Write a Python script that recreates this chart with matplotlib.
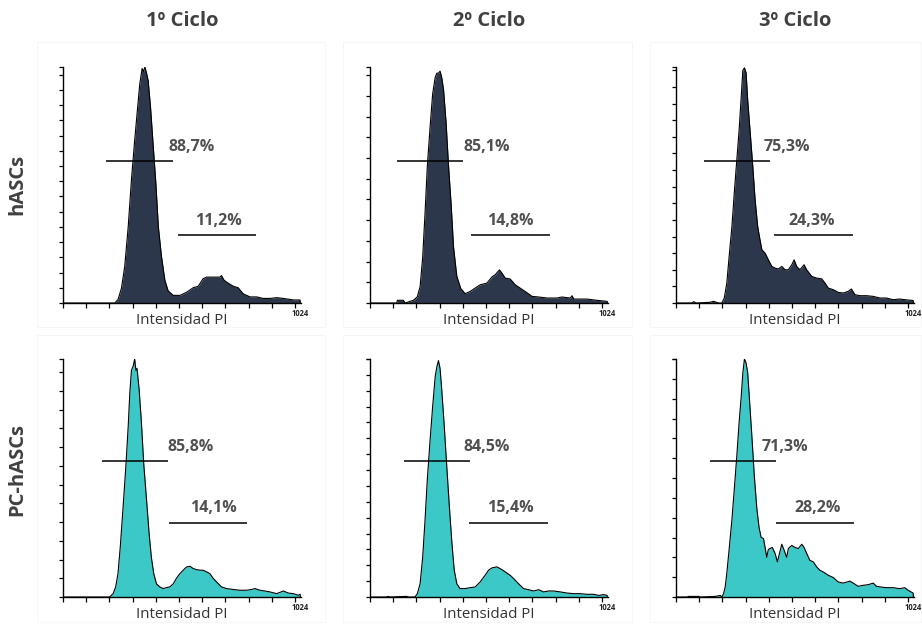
import numpy as np
import matplotlib
matplotlib.use("Agg")
import matplotlib.pyplot as plt
from matplotlib.patches import Rectangle

plt.rcParams['font.family'] = ['Open Sans', 'DejaVu Sans']

# Column / row headings
cycles = ["1º Ciclo", "2º Ciclo", "3º Ciclo"]
cell_lines = ["hASCs", "PC-hASCs"]

# DNA content histograms: (PI channel, cell count)
hascs_c1 = [(0, 0), (223, 0), (237, 2.2), (252, 9.8), (266, 24), (281, 50), (295, 81), (309, 107),
            (319, 124), (331, 144), (341, 154), (347, 152), (353, 155), (360, 151), (367, 146),
            (377, 129), (388, 105), (400, 79), (411, 50), (424, 31), (439, 15), (453, 8), (475, 5),
            (504, 5), (532, 7), (561, 10), (583, 11), (604, 16), (619, 17), (647, 17), (676, 17),
            (683, 18), (694, 15), (712, 13), (734, 11), (755, 10), (777, 6), (806, 4), (835, 4),
            (863, 3), (892, 3), (921, 3.5), (950, 3), (993, 2), (1021, 2), (1023, 0)]
hascs_c2 = [(0, 0), (115, 0), (118, 1.3), (144, 1.3), (151, 0), (187, 1.3), (204, 3), (216, 8),
            (227, 22), (237, 43), (247, 66), (259, 85), (270, 101), (281, 109), (288, 111),
            (295, 111), (302, 112), (309, 109), (317, 103), (328, 87), (338, 67), (350, 47),
            (360, 27), (374, 13), (391, 7), (410, 4.5), (432, 5.6), (453, 7.2), (475, 8.8),
            (504, 9.6), (525, 12.5), (540, 13.7), (558, 16), (568, 14.5), (583, 12), (604, 11.6),
            (626, 8.8), (647, 7.2), (676, 5), (698, 3.2), (727, 2.9), (763, 2.4), (806, 2.4),
            (827, 2.9), (863, 2.4), (871, 3.5), (878, 1.9), (935, 1.9), (978, 1.3), (1022, 0.8),
            (1023, 0)]
hascs_c3 = [(0, 0), (69, 0), (76, 0.8), (87, 0), (145, 0.4), (162, 1), (183, 0), (198, 0), (208, 3),
            (219, 12), (229, 28), (241, 46), (251, 66), (262, 86), (272, 104), (281, 124),
            (288, 140), (295, 141.5), (302, 138.5), (309, 122), (319, 104), (331, 82), (341, 62),
            (352, 46), (362, 38), (370, 32), (384, 30), (398, 26), (413, 22), (427, 21),
            (441, 20.5), (456, 22), (470, 20), (484, 20), (499, 23), (509, 26), (520, 22),
            (534, 20), (552, 23), (563, 20), (585, 16), (606, 15), (628, 14.5), (642, 12),
            (656, 9), (678, 8), (699, 6.4), (721, 6), (742, 7), (756, 8.4), (771, 5), (792, 4.4),
            (821, 4.4), (849, 4), (878, 3), (907, 3), (936, 2), (964, 2.4), (986, 2), (1022, 1.5),
            (1023, 0)]
pc_c1 = [(0, 0), (201, 0), (216, 1.8), (227, 5.4), (237, 12.5), (247, 27), (259, 48), (271, 70),
         (281, 91), (288, 109), (295, 121), (302, 123), (309, 127), (314, 121), (319, 122),
         (328, 111), (338, 93), (348, 71), (360, 52), (371, 34), (381, 21), (391, 12.5), (403, 7),
         (417, 5.4), (432, 4.5), (446, 5), (460, 5.4), (475, 7), (489, 10), (504, 12.5),
         (518, 14.3), (532, 16), (547, 16.4), (561, 15.2), (576, 14.6), (590, 14.3), (604, 14.3),
         (619, 13.4), (633, 12.5), (647, 10), (662, 8), (683, 5.4), (705, 4.5), (734, 4),
         (763, 3.6), (791, 3.6), (813, 4), (827, 4.5), (849, 3.6), (870, 3.2), (892, 2.7),
         (921, 1.8), (950, 3.2), (971, 2.1), (993, 1.8), (1014, 0.9), (1022, 1.5), (1023, 0)]
pc_c2 = [(0, 0), (72, 0), (79, 0.4), (86, 0), (158, 0.4), (165, 0), (194, 0), (204, 2.1), (216, 8.4),
         (227, 25), (237, 48), (247, 74), (259, 99), (270, 120), (281, 139), (288, 145),
         (295, 149), (302, 144), (309, 131), (319, 110), (331, 82), (342, 57), (353, 34),
         (363, 17), (374, 8.4), (388, 5.3), (410, 5.3), (432, 5.9), (453, 6.3), (475, 9.5),
         (496, 13.7), (511, 16.9), (525, 18.3), (547, 19), (568, 17.3), (583, 15.8), (604, 13.7),
         (619, 11.6), (640, 8.4), (662, 5.3), (683, 4.6), (705, 3.8), (727, 4.6), (748, 3.2),
         (770, 3.8), (791, 3.8), (820, 3.2), (849, 2.5), (878, 2.1), (906, 2.1), (935, 1.7),
         (964, 1.7), (986, 1), (1007, 1.5), (1022, 1), (1023, 0)]
pc_c3 = [(0, 0), (47, 0), (54, 0.3), (100, 0.3), (105, 0), (169, 0.3), (191, 0.8), (198, 0),
         (205, 1.7), (212, 5), (219, 12), (229, 24), (241, 39), (251, 54), (262, 71), (272, 88),
         (281, 101), (288, 113), (295, 120), (302, 118), (309, 113), (317, 99), (327, 81),
         (337, 62), (348, 45), (358, 35), (367, 30), (377, 29.5), (384, 25), (391, 20), (398, 24),
         (405, 24.4), (415, 25), (427, 22), (437, 17.7), (446, 22), (456, 26.6), (466, 23.6),
         (477, 20), (484, 24.4), (499, 26), (513, 25), (527, 24.4), (542, 26.6), (552, 25),
         (563, 22), (577, 18.5), (592, 17.7), (606, 15.2), (620, 13.5), (635, 12.6), (656, 11),
         (678, 9.8), (699, 7.6), (721, 7), (749, 8), (764, 7), (785, 5.4), (807, 5.9), (828, 6.2),
         (850, 7), (864, 5.4), (885, 5), (907, 4.7), (936, 4.7), (964, 4.2), (986, 4.7),
         (1000, 3.4), (1014, 2.5), (1022, 2), (1023, 0)]

# Count-axis maxima per panel
ymax_hascs = [155, 114, 142]
ymax_pc = [127, 150, 120]

# Markers: M1 (G0/G1) and M2 (S + G2/M) channel ranges and gated percentages
m1_hascs = [(187, 472), (115, 400), (119, 403)]
m2_hascs = [(496, 832), (436, 774), (424, 761)]
m1_pc = [(170, 453), (148, 432), (145, 430)]
m2_pc = [(458, 794), (427, 765), (431, 768)]
pct_m1_hascs = ["88,7%", "85,1%", "75,3%"]
pct_m2_hascs = ["11,2%", "14,8%", "24,3%"]
pct_m1_pc = ["85,8%", "84,5%", "71,3%"]
pct_m2_pc = ["14,1%", "15,4%", "28,2%"]
lab_m1_hascs = [554, 504, 477]
lab_m2_hascs = [669, 604, 586]
lab_m1_pc = [551, 501, 471]
lab_m2_pc = [649, 604, 612]

rows = [
    dict(hists=[hascs_c1, hascs_c2, hascs_c3], ymax=ymax_hascs, m1=m1_hascs, m2=m2_hascs,
         p1=pct_m1_hascs, p2=pct_m2_hascs, l1=lab_m1_hascs, l2=lab_m2_hascs,
         color="#2d374b", bottom=303, top=67, y_m1=0.603, y_m2=0.289, label_y=184),
    dict(hists=[pc_c1, pc_c2, pc_c3], ymax=ymax_pc, m1=m1_pc, m2=m2_pc,
         p1=pct_m1_pc, p2=pct_m2_pc, l1=lab_m1_pc, l2=lab_m2_pc,
         color="#3cc8c6", bottom=597, top=359, y_m1=0.573, y_m2=0.313, label_y=470),
]

W, H = 922, 625
fig = plt.figure(figsize=(W / 100, H / 100), dpi=100)
fig.patch.set_facecolor("white")

col_left = [63, 370, 676]
ax_w = 237.6
box_x = [(37, 325), (343, 632), (650, 921)]
box_y = [(42, 327), (335, 622)]

# faint frames around each panel
for (by0, by1) in box_y:
    for (bx0, bx1) in box_x:
        fig.add_artist(Rectangle((bx0 / W, 1 - by1 / H), (bx1 - bx0) / W, (by1 - by0) / H,
                                 transform=fig.transFigure, fill=False,
                                 edgecolor="#f6f6f6", lw=0.7, zorder=0))

for r, row in enumerate(rows):
    for c in range(3):
        left = col_left[c]
        ax = fig.add_axes([left / W, 1 - row["bottom"] / H, ax_w / W,
                           (row["bottom"] - row["top"]) / H])
        data = np.array(row["hists"][c], dtype=float)
        x, y = data[:, 0], data[:, 1]
        ym = row["ymax"][c]
        ax.fill_between(x, y, 0, color=row["color"], lw=0, zorder=2)
        ax.plot(x, y, color="black", lw=0.8, zorder=3)
        ax.set_xlim(0, 1024)
        ax.set_ylim(0, ym)

        for s in ("top", "right"):
            ax.spines[s].set_visible(False)
        for s in ("left", "bottom"):
            ax.spines[s].set_linewidth(1.0)
            ax.spines[s].set_color("black")
        ax.set_xticks(np.arange(0, 1001, 100))
        ax.set_yticks(list(np.arange(0, ym + 0.01, 10)) + [ym])
        ax.tick_params(axis="x", direction="out", length=3.8, width=0.9,
                       labelbottom=False)
        ax.tick_params(axis="y", direction="out", length=3.0, width=0.9,
                       labelleft=False)

        tr = ax.get_xaxis_transform()
        for (a, b), yf, lab, lx in ((row["m1"][c], row["y_m1"], row["p1"][c], row["l1"][c]),
                                    (row["m2"][c], row["y_m2"], row["p2"][c], row["l2"][c])):
            ax.plot([a, b], [yf, yf], transform=tr, color="black", lw=1.1,
                    solid_capstyle="butt", zorder=4)
            ax.text(lx, yf + 0.059, lab, transform=tr, ha="center", va="center",
                    fontsize=11.5, fontweight="bold", color="#505050", zorder=5)

        ax.annotate("Intensidad PI", xy=(0.5, 0), xycoords="axes fraction",
                    xytext=(0, -18), textcoords="offset pixels",
                    ha="center", va="center", fontsize=10.8, color="#333333")
        ax.annotate("1024", xy=(1024, 0), xycoords=("data", "axes fraction"),
                    xytext=(0, -10), textcoords="offset pixels",
                    ha="center", va="center", fontsize=5.5, fontweight="bold",
                    color="#222222")

        if r == 0:
            fig.text((left + ax_w / 2) / W, 1 - 21 / H, cycles[c], ha="center",
                     va="center", fontsize=14.5, fontweight="bold", color="#404040")

    fig.text(17 / W, 1 - row["label_y"] / H, cell_lines[r], rotation=90,
             ha="center", va="center", fontsize=14.5, fontweight="bold", color="#404040")

fig.savefig("out.png", dpi=100, facecolor="white")
